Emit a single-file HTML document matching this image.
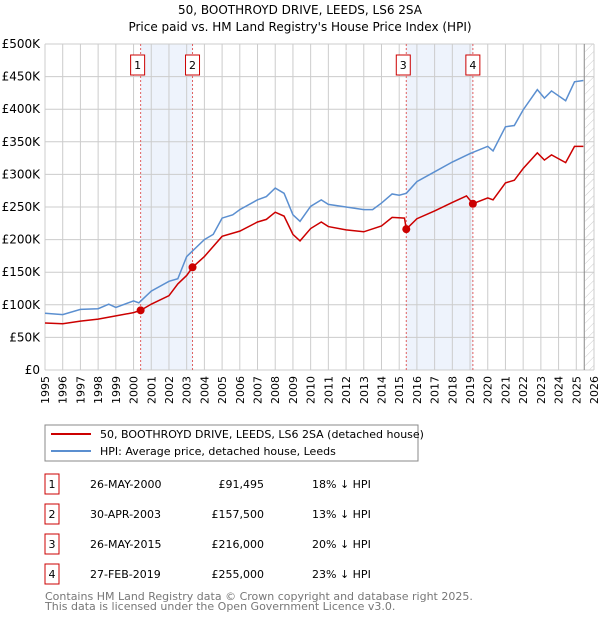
<!DOCTYPE html>
<html><head><meta charset="utf-8"><style>
body{margin:0;background:#fff;}
svg{display:block;font-family:"DejaVu Sans","Liberation Sans",sans-serif;}
</style></head><body>
<svg id="c" width="600" height="620" viewBox="0 0 600 620">
<defs><pattern id="hatch" width="6" height="6" patternUnits="userSpaceOnUse" patternTransform="rotate(45)"><line x1="0" y1="0" x2="0" y2="6" stroke="#ccc" stroke-width="1"/></pattern></defs>
<text x="300" y="14" text-anchor="middle" font-size="12">50, BOOTHROYD DRIVE, LEEDS, LS6 2SA</text>
<text x="300" y="31" text-anchor="middle" font-size="12">Price paid vs. HM Land Registry's House Price Index (HPI)</text>
<g id="plot"></g>
<rect x="45" y="425" width="373" height="36" fill="#fff" stroke="#888"/>
<line x1="51" y1="434" x2="91" y2="434" stroke="#cc0000" stroke-width="2"/>
<text x="100" y="438" font-size="11">50, BOOTHROYD DRIVE, LEEDS, LS6 2SA (detached house)</text>
<line x1="51" y1="451" x2="91" y2="451" stroke="#5b8fd0" stroke-width="2"/>
<text x="100" y="455" font-size="11">HPI: Average price, detached house, Leeds</text>
<g id="table" font-size="11"></g>
<text x="45" y="600" font-size="11" fill="#777">Contains HM Land Registry data © Crown copyright and database right 2025.</text>
<text x="45" y="610" font-size="11" fill="#777">This data is licensed under the Open Government Licence v3.0.</text>
</svg>
<script>
const hpiYears=[1995,1996,1997,1998,1998.6,1999,2000,2000.3,2001,2002,2002.5,2003,2004,2004.5,2005,2005.6,2006,2007,2007.5,2008,2008.5,2009,2009.4,2010,2010.6,2011,2012,2013,2013.5,2014,2014.6,2015,2015.4,2016,2017,2018,2019,2020,2020.3,2021,2021.5,2022,2022.8,2023.2,2023.6,2024.4,2024.9,2025.4];
const hpiValues=[87,85,93,94,101,96,106,103,121,136,140,174,200,208,233,238,246,261,266,279,271,238,228,251,261,254,250,246,246,256,270,268,271,289,304,319,332,343,336,373,375,399,430,417,428,413,442,444];
const ppYears=[1995,1996,1997,1998,1999,2000,2000.4,2001,2002,2002.5,2003,2003.33,2004,2005,2006,2007,2007.5,2008,2008.5,2009,2009.4,2010,2010.6,2011,2012,2013,2014,2014.6,2015.3,2015.4,2016,2017,2018,2018.8,2019.16,2020,2020.3,2021,2021.5,2022,2022.8,2023.2,2023.6,2024.4,2024.9,2025.4];
const ppValues=[72,71,75,78,83,88,91.5,101,114,132,145,157.5,174,205,213,227,231,242,236,208,198,217,227,220,215,212,221,234,233,216,232,244,257,267,255,264,261,287,291,309,333,322,330,318,343,343];
const saleYears=[2000.4,2003.33,2015.4,2019.16];
const saleValues=[91.5,157.5,216,255];
const saleLabels=["1","2","3","4"];
const saleDates=["26-MAY-2000","30-APR-2003","26-MAY-2015","27-FEB-2019"];
const salePrices=["£91,495","£157,500","£216,000","£255,000"];
const saleDiffs=["18% ↓ HPI","13% ↓ HPI","20% ↓ HPI","23% ↓ HPI"];
const yTicks=[0,50,100,150,200,250,300,350,400,450,500];
const yTickLabels=["£0","£50K","£100K","£150K","£200K","£250K","£300K","£350K","£400K","£450K","£500K"];
const xTicks=[1995,1996,1997,1998,1999,2000,2001,2002,2003,2004,2005,2006,2007,2008,2009,2010,2011,2012,2013,2014,2015,2016,2017,2018,2019,2020,2021,2022,2023,2024,2025,2026];
const X0=45,X1=594,Y0=370,Y1=44;
const xs=y=>X0+(y-1995)/31*(X1-X0);
const ys=v=>Y0-v/500*(Y0-Y1);
const NS="http://www.w3.org/2000/svg";
const plot=document.getElementById('plot');
function mk(tag,attrs,parent){const e=document.createElementNS(NS,tag);for(const k in attrs)e.setAttribute(k,attrs[k]);(parent||plot).appendChild(e);return e;}
// shaded spans
for(let i=0;i<saleYears.length;i+=2){
 const r=mk('rect',{x:xs(saleYears[i]),y:Y1,width:xs(saleYears[i+1])-xs(saleYears[i]),height:Y0-Y1,fill:'#eef3fc'});
 
 
}
const hr=mk('rect',{x:xs(2025.5),y:Y1,width:X1-xs(2025.5),height:Y0-Y1,fill:'url(#hatch)'});


// grid
xTicks.forEach(t=>{
 const l=mk('line',{x1:xs(t),x2:xs(t),y1:Y1,y2:Y0,stroke:'#ccc'});
 
 
 const tx=mk('text',{x:0,y:0,'font-size':11,'text-anchor':'end',transform:`translate(${xs(t)+4},${Y0+6}) rotate(-90)`});
 tx.textContent=t;
 
 
});
yTicks.forEach((t,i)=>{
 const l=mk('line',{x1:X0,x2:X1,y1:ys(t),y2:ys(t),stroke:'#ccc'});
 
 
 const tx=mk('text',{x:40,y:ys(t)+4,'font-size':12,'text-anchor':'end'});
 tx.textContent=yTickLabels[i];
 
 
});
const el=mk('line',{x1:xs(2025.45),x2:xs(2025.45),y1:Y1,y2:Y0,stroke:'#888'});


// sale vlines
saleYears.forEach(s=>{
 const l=mk('line',{x1:xs(s),x2:xs(s),y1:Y1,y2:Y0,stroke:'#e06060','stroke-dasharray':'2,2'});
 
 
});
const hp=mk('polyline',{points:hpiYears.map((y,i)=>xs(y)+','+ys(hpiValues[i])).join(' '),fill:'none',stroke:'#5b8fd0','stroke-width':1.5});


const pp=mk('polyline',{points:ppYears.map((y,i)=>xs(y)+','+ys(ppValues[i])).join(' '),fill:'none',stroke:'#cc0000','stroke-width':1.5});


saleYears.forEach((s,i)=>{
 const c=mk('circle',{cx:xs(s),cy:ys(saleValues[i]),r:4,fill:'#cc0000'});
 
 
 const bx=xs(s)-7-(i%2?0:3);
 const b=mk('rect',{x:bx,y:55,width:14,height:20,fill:'#fff',stroke:'#cc0000'});
 
 
 const t=mk('text',{x:bx+7,y:69,'font-size':11,'text-anchor':'middle'});
 t.textContent=saleLabels[i];
 
 
});
const tb=document.getElementById('table');
saleLabels.forEach((lab,i)=>{
 const cy=483+i*30;
 const b=mk('rect',{x:45,y:cy-9,width:14,height:20,fill:'#fff',stroke:'#cc0000'},tb);
 
 
 const cells=[[52,lab,'middle','table-index'],[90,saleDates[i],'start','table-date'],[264,salePrices[i],'end','table-price'],[312,saleDiffs[i],'start','table-hpi-diff']];
 cells.forEach(c=>{
  const t=mk('text',{x:c[0],y:cy+5,'text-anchor':c[2]},tb);
  t.textContent=c[1];
  
  
 });
});
</script>
</body></html>
